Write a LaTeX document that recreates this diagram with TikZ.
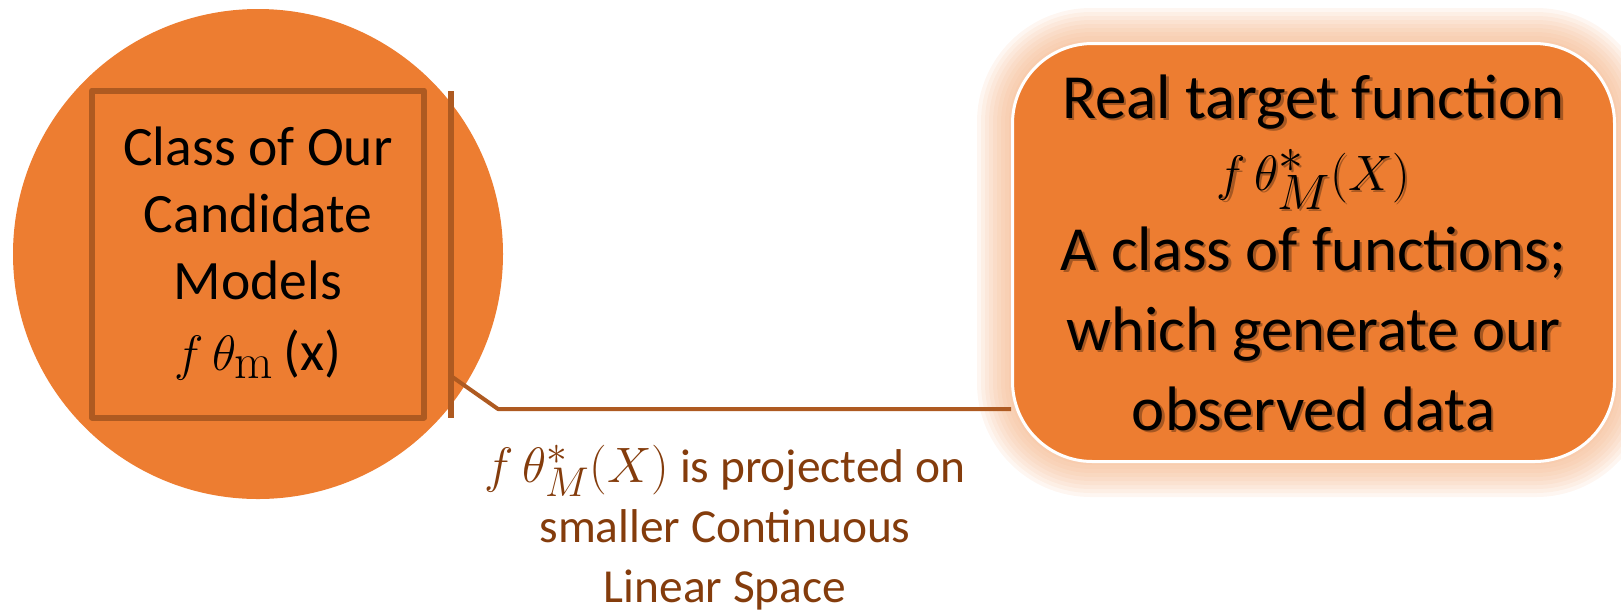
\documentclass[tikz,border=0pt]{standalone}
\usepackage[no-math]{fontspec}
\setmainfont{Carlito}
\usetikzlibrary{backgrounds}
\definecolor{accent}{HTML}{ED7D31}
\definecolor{rim}{HTML}{AE5A21}
\definecolor{labelbrown}{HTML}{843C0C}
\definecolor{glow}{HTML}{F4B183}
\newcommand{\bigmath}[2]{{\fontsize{#1}{#1}\selectfont$#2$}}
\newcommand{\tgttext}{Real target function\\[-4pt]\bigmath{42}{f\,\theta^{*}_{M}(X)}\\A class of functions;\\which generate our\\observed data}
\begin{document}
\begin{tikzpicture}[x=.5pt,y=-.5pt,line join=round,
	pool/.style={circle,fill=accent,minimum size=245pt,inner sep=0pt},
	cls/.style={draw=rim,line width=3pt,minimum width=166pt,minimum height=163.5pt,align=center,font=\fontsize{27.8}{33.5}\selectfont},
	target/.style={fill=accent,draw=white,line width=1.5pt,rounded corners=40pt,minimum width=301pt,minimum height=209pt},
	words/.style={align=center,font=\fontsize{31.4}{40}\selectfont},
	note/.style={align=center,text=labelbrown,font=\fontsize{23.7}{30}\selectfont},
	link/.style={draw=rim,line width=2pt}]
	\useasboundingbox (0,0) rectangle (1621,612);
	% left: circle with the class box
	\node[pool] (pool) at (258,254) {};
	\node[cls] (cls) at (258,254) {Class of Our\\Candidate\\Models\\[2pt]\bigmath{36}{f\,\theta_{\mathrm{m}}}\,(x)};
	% right: target box with glow
	\node[target] (tgt) at (1313.5,252.5) {};
	\begin{scope}[on background layer]
		\foreach \w in {2,6,...,34}\draw[glow,line width=\w pt,draw opacity=.11,rounded corners=40pt] (tgt.south west) rectangle (tgt.north east);
	\end{scope}
	\node[words,text=black,text opacity=.3] (tgtshade) at ([xshift=1.2pt,yshift=-1.2pt]tgt.center) {\tgttext};
	\node[words] (tgtwords) at (tgt.center) {\tgttext};
	% projection bar and link
	\coordinate (bartop) at (451,91);
	\coordinate (barbot) at (451,418);
	\coordinate (barmid) at (451,376);
	\coordinate (knee) at (498,409);
	\draw[link,line width=3pt] (bartop)--(barbot);
	\draw[link] (barmid)--(knee)--(knee-|tgt.west);
	\node[note] (note) at (725,528) {\bigmath{31}{f\,\theta^{*}_{M}(X)} is projected on\\smaller Continuous\\Linear Space};
\end{tikzpicture}
\end{document}
